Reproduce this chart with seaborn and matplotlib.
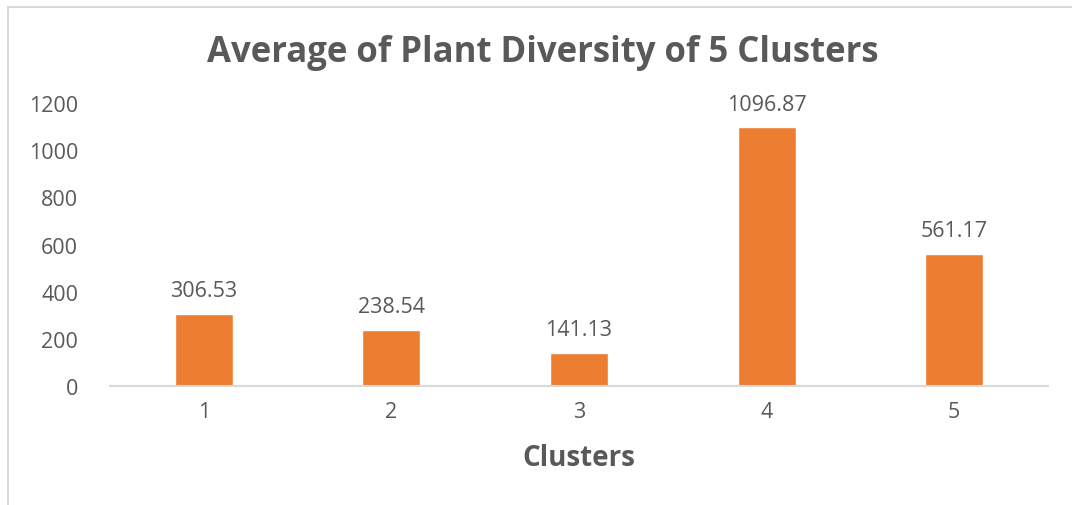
import matplotlib
matplotlib.use("Agg")
import matplotlib.pyplot as plt
from matplotlib.lines import Line2D
import seaborn as sns
import pandas as pd

clusters = ["1", "2", "3", "4", "5"]
diversity = [306.53, 238.54, 141.13, 1096.87, 561.17]
y_ticks = [0, 200, 400, 600, 800, 1000, 1200]

title = "Average of Plant Diversity of 5 Clusters"
x_label = "Clusters"

bar_color = "#ED7D31"
text_color = "#595959"
axis_color = "#D9D9D9"

sns.set_theme(style="white")
plt.rcParams["font.family"] = ["Open Sans", "DejaVu Sans"]

df = pd.DataFrame({"Cluster": clusters, "Diversity": diversity})

fig = plt.figure(figsize=(10.72, 5.06), dpi=100)
ax = fig.add_axes([0.1026, 0.2352, 0.875, 0.559])

sns.barplot(data=df, x="Cluster", y="Diversity", color=bar_color,
            width=0.31, saturation=1, ax=ax)

ax.set_xlim(-0.5, len(clusters) - 0.5)
ax.set_ylim(0, 1200)
ax.set_yticks(y_ticks)
ax.set_yticklabels([str(t) for t in y_ticks], fontsize=15.5, color=text_color)
ax.tick_params(axis="x", labelsize=15.5, colors=text_color, length=0, pad=11)
ax.tick_params(axis="y", length=0, pad=23)

for side in ["top", "right", "left"]:
    ax.spines[side].set_visible(False)
ax.spines["bottom"].set_color(axis_color)
ax.spines["bottom"].set_linewidth(1.5)

ax.set_ylabel("")
ax.set_xlabel(x_label, fontsize=20, fontweight="bold", color=text_color, labelpad=15)

for container in ax.containers:
    ax.bar_label(container, labels=[f"{v:.2f}" for v in diversity],
                 padding=9, fontsize=15.5, color=text_color)

fig.suptitle(title, x=0.506, y=0.93, fontsize=25, fontweight="bold", color=text_color)

# light frame along the top and left edges of the chart area
fig.add_artist(Line2D([0.0075, 1.0], [0.984, 0.984], transform=fig.transFigure,
                      color=axis_color, linewidth=1.5))
fig.add_artist(Line2D([0.0075, 0.0075], [0.0, 0.984], transform=fig.transFigure,
                      color=axis_color, linewidth=1.5))

fig.savefig("out.png", dpi=100, facecolor="white")
